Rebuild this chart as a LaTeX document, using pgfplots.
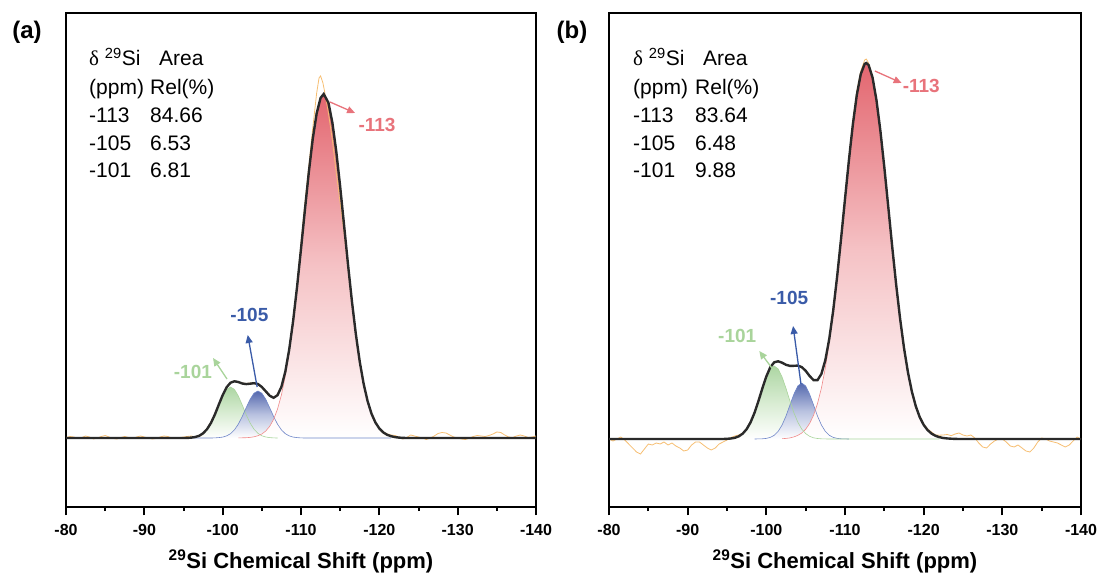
\documentclass[border=0pt]{standalone}
\usepackage{fontspec}
\setmainfont{Liberation Sans}
\newfontfamily\serifgreek{Liberation Serif}
\usepackage{pgfplots}
\usepackage{pgfplotstable}
\pgfplotsset{compat=1.18}
\usetikzlibrary{arrows.meta}
\definecolor{redtop}{HTML}{E3666F}
\definecolor{redmid}{HTML}{F5C2C5}
\definecolor{redline}{HTML}{F08A8A}
\definecolor{redlab}{HTML}{E8737B}
\definecolor{bluetop}{HTML}{5468AE}
\definecolor{bluemid}{HTML}{B9C2E0}
\definecolor{blueline}{HTML}{6F86C8}
\definecolor{bluelab}{HTML}{3A5BA8}
\definecolor{greentop}{HTML}{ADD6A3}
\definecolor{greenmid}{HTML}{D8ECD2}
\definecolor{greenline}{HTML}{A9D49B}
\definecolor{greenlab}{HTML}{A9D49B}
\definecolor{expline}{HTML}{F6BE72}
\definecolor{fitline}{HTML}{2A2A2A}

% ---------- panel (a) ----------
\pgfplotstableread{
x y
-102 0.1
-103 0.3
-103.5 0.6
-104 1.2
-104.5 2.3
-105 4.0
-105.5 7.0
-106 11.6
-106.5 18.6
-107 28.9
-107.5 43.1
-108 62.2
-108.5 86.7
-109 116.5
-109.5 151.0
-110 189.0
-110.5 228.3
-111 266.0
-111.5 299.2
-112 324.7
-112.5 340.1
-112.9 344
-113.5 335.3
-114 315.6
-114.5 286.7
-115 251.3
-115.5 212.6
-116 173.5
-116.5 136.7
-117 103.9
-117.5 76.2
-118 54.0
-118.5 36.9
-119 24.3
-119.5 15.5
-120 9.5
-120.5 5.6
-121 3.2
-121.5 1.8
-122 0.9
-122.5 0.4
-123 0.1
-124 0
}\redA
\pgfplotstableread{
x y
-96 0
-98.5 0
-99 0.1
-99.5 0.4
-100 0.9
-100.5 2.1
-101 4.3
-101.5 8.1
-102 13.9
-102.5 21.5
-103 30.3
-103.5 38.7
-104 44.8
-104.5 47
-105 44.8
-105.5 38.7
-106 30.3
-106.5 21.5
-107 13.9
-107.5 8.1
-108 4.3
-108.5 2.1
-109 0.9
-109.5 0.4
-110 0.1
-110.5 0
-121.5 0
}\blueA
\pgfplotstableread{
x y
-95 0
-95.5 0.1
-96 0.4
-96.5 1.0
-97 2.2
-97.5 4.7
-98 8.8
-98.5 15.0
-99 23.3
-99.5 32.9
-100 42.0
-100.5 48.6
-101 51
-101.5 48.6
-102 42.0
-102.5 32.9
-103 23.3
-103.5 15.0
-104 8.8
-104.5 4.7
-105 2.2
-105.5 1.0
-106 0.4
-106.5 0.1
-107 0
}\greenA
\pgfplotstableread{
x y
-80 0
-95 0
-95.5 0.1
-96 0.4
-96.5 1.0
-97 2.2
-97.5 4.7
-98 8.8
-98.5 15.0
-99 23.4
-99.5 33.3
-100 42.9
-100.5 50.7
-101 55.3
-101.5 56.7
-102 56.0
-102.5 54.5
-103 53.9
-103.5 54.3
-104 54.8
-104.5 54.0
-105 51.0
-105.5 46.7
-106 42.3
-106.5 40.2
-107 42.8
-107.5 51.2
-108 66.5
-108.5 88.8
-109 117.4
-109.5 151.4
-110 189.1
-110.5 228.3
-111 266.0
-111.5 299.2
-112 324.7
-112.5 340.1
-112.9 344
-113.5 335.3
-114 315.6
-114.5 286.7
-115 251.3
-115.5 212.6
-116 173.5
-116.5 136.7
-117 103.9
-117.5 76.2
-118 54.0
-118.5 36.9
-119 24.3
-119.5 15.5
-120 9.5
-120.5 5.6
-121 3.2
-121.5 1.8
-122 0.9
-122.5 0.4
-123 0.1
-123.5 0
-140 0
}\sumA
\pgfplotstableread{
x y
-80 0.5
-80.5 1.5
-81 1
-81.5 -0.5
-82 0.5
-82.5 2
-83 1
-83.5 -1
-84 0
-84.5 1.5
-85 2.5
-85.5 1
-86 -0.5
-86.5 -1
-87 0.5
-87.5 1.5
-88 0.5
-88.5 -0.5
-89 1
-89.5 2
-90 1
-90.5 0
-91 -1
-91.5 -0.5
-92 1
-92.5 2
-93 1.5
-93.5 0
-94 -0.5
-94.5 0.5
-95 1
-95.5 1.5
-96 2
-96.5 1
-97 1.5
-97.5 4
-98 9.5
-98.5 16
-99 24
-99.5 33
-100 43
-100.5 51
-101 55.5
-101.5 57
-102 56
-102.5 55
-103 54.5
-103.5 55
-104 55
-104.5 53.5
-105 50.5
-105.5 46
-106 42
-106.5 40.5
-107 43.5
-107.5 52
-108 67
-108.5 89
-109 118
-109.5 153
-110 195
-110.5 235
-111 272
-111.5 310
-112 345
-112.3 360
-112.5 362
-112.8 355
-113 347
-113.5 325
-114 298
-114.5 265
-115 235
-115.5 205
-116 170
-116.5 135
-117 103
-117.5 76
-118 54.5
-118.5 37
-119 25
-119.5 16
-120 10
-120.5 6
-121 4
-121.5 3
-122 2.5
-122.5 1
-123 -1
-123.5 0.5
-124 3
-124.5 2
-125 1
-125.5 0
-126 -1.5
-126.5 0
-127 2
-127.5 4.5
-128 5.5
-128.5 5
-129 3
-129.5 1
-130 0
-130.5 -1
-131 -1.5
-131.5 0
-132 1.5
-132.5 2.5
-133 2
-133.5 1.5
-134 2.5
-134.5 4
-135 6
-135.5 5.5
-136 3
-136.5 1
-137 0.5
-137.5 2
-138 3
-138.5 2
-139 0.5
-139.5 1
-140 2
}\expA

% ---------- panel (b) ----------
\pgfplotstableread{
x y
-102 0.3
-102.5 0.6
-103 1.1
-103.5 2.1
-104 3.6
-104.5 6.0
-105 9.8
-105.5 15.5
-106 23.7
-106.5 35.3
-107 50.9
-107.5 71.2
-108 96.5
-108.5 126.9
-109 161.9
-109.5 200.2
-110 240.0
-110.5 279.1
-111 314.7
-111.5 344.1
-112 364.8
-112.5 375.1
-112.7 376
-113 373.9
-113.5 361.5
-114 338.8
-114.5 308.0
-115 271.5
-115.5 232.1
-116 192.3
-116.5 154.6
-117 120.5
-117.5 91.0
-118 66.7
-118.5 47.4
-119 32.7
-119.5 21.8
-120 14.1
-120.5 8.9
-121 5.4
-121.5 3.2
-122 1.8
-122.5 1.0
-123 0.55
-123.5 0.3
-124 0
}\redB
\pgfplotstableread{
x y
-98.5 0
-99 0.1
-99.5 0.2
-100 0.6
-100.5 1.6
-101 3.7
-101.5 7.6
-102 14.0
-102.5 23.0
-103 34.0
-103.5 44.8
-104 53.0
-104.5 56
-105 53.0
-105.5 44.8
-106 34.0
-106.5 23.0
-107 14.0
-107.5 7.6
-108 3.7
-108.5 1.6
-109 0.6
-109.5 0.2
-110 0.1
-110.5 0
}\blueB
\pgfplotstableread{
x y
-94 0
-94.5 0.07
-95 0.2
-95.5 0.5
-96 1.2
-96.5 2.7
-97 5.4
-97.5 9.9
-98 16.8
-98.5 26.3
-99 38.0
-99.5 50.6
-100 62.0
-100.5 70.1
-101 73
-101.5 70.1
-102 62.0
-102.5 50.6
-103 38.0
-103.5 26.3
-104 16.8
-104.5 9.9
-105 5.4
-105.5 2.7
-106 1.2
-106.5 0.5
-107 0.2
-107.5 0.07
-108 0
-122 0
}\greenB
\pgfplotstableread{
x y
-80 0
-94.5 0
-95 0.2
-95.5 0.5
-96 1.2
-96.5 2.7
-97 5.4
-97.5 9.9
-98 16.8
-98.5 26.3
-99 38.1
-99.5 50.8
-100 62.6
-100.5 71.7
-101 76.7
-101.5 77.7
-102 76.3
-102.5 74.2
-103 73.1
-103.5 73.2
-104 73.4
-104.5 71.9
-105 68.2
-105.5 63.0
-106 58.9
-106.5 58.8
-107 65.1
-107.5 78.9
-108 100.2
-108.5 128.5
-109 162.5
-109.5 200.4
-110 240.0
-110.5 279.1
-111 314.7
-111.5 344.1
-112 364.8
-112.5 375.1
-112.7 376
-113 373.9
-113.5 361.5
-114 338.8
-114.5 308.0
-115 271.5
-115.5 232.1
-116 192.3
-116.5 154.6
-117 120.5
-117.5 91.0
-118 66.7
-118.5 47.4
-119 32.7
-119.5 21.8
-120 14.1
-120.5 8.9
-121 5.4
-121.5 3.2
-122 1.8
-122.5 1.0
-123 0.55
-123.5 0.3
-124 0.1
-124.5 0
-140 0
}\sumB
\pgfplotstableread{
x y
-80 0
-80.5 -2
-81 0
-81.5 2
-82 -1
-82.5 -5
-83 -9
-83.5 -13
-84 -15
-84.5 -10
-85 -5
-85.5 -6
-86 -4
-86.5 -5
-87 -3
-87.5 -6
-88 -4
-88.5 -7
-89 -9
-89.5 -12
-90 -11
-90.5 -6
-91 -3
-91.5 -3
-92 -6
-92.5 -9
-93 -11
-93.5 -9
-94 -5
-94.5 -3
-95 -1
-95.5 1.5
-96 3
-96.5 4
-97 6
-97.5 10
-98 17
-98.5 27
-99 39
-99.5 51
-100 63
-100.5 72
-101 77
-101.5 78
-102 76
-102.5 74
-103 73.5
-103.5 73.5
-104 73
-104.5 71.5
-105 67.5
-105.5 62.5
-106 58.5
-106.5 59
-107 65.5
-107.5 79.5
-108 101
-108.5 130
-109 165
-109.5 203
-110 243
-110.5 282
-111 318
-111.5 348
-112 368
-112.5 379
-112.7 380
-113 376
-113.5 362
-114 338
-114.5 307
-115 270
-115.5 231
-116 191
-116.5 154
-117 120
-117.5 91
-118 67
-118.5 48
-119 33
-119.5 23
-120 15
-120.5 10
-121 7
-121.5 4
-122 3.8
-122.5 4
-123 4.5
-123.5 3.3
-124 5
-124.5 6
-125 4
-125.5 3
-126 4
-126.5 1
-127 -4
-127.5 -8
-128 -9
-128.5 -5
-129 -2
-129.5 0
-130 0
-130.5 -3
-131 -7
-131.5 -8
-132 -6
-132.5 -9
-133 -12
-133.5 -13
-134 -9
-134.5 -3
-135 1
-135.5 0
-136 -2
-136.5 -3
-137 -4
-137.5 -6
-138 -8
-138.5 -6
-139 -2
-139.5 2
-140 0
}\expB

\pgfplotsset{
  panel/.style={
    scale only axis,
    disabledatascaling,
    anchor=south west,
    height=494pt,
    xmin=-140, xmax=-80,
    x dir=reverse,
    ytick=\empty,
    xtick={-140,-130,-120,-110,-100,-90,-80},
    xticklabels={-140,-130,-120,-110,-100,-90,-80},
    minor xtick={-135,-125,-115,-105,-95,-85},
    extra x ticks={-140,-130,-120,-110,-100,-90,-80},
    extra x tick labels={},
    extra x tick style={major tick length=8pt, tick style={draw=black, line width=2.2pt}},
    tick align=outside,
    xtick pos=left,
    major tick length=8pt,
    minor tick length=4pt,
    axis line style={line width=2.5pt, black},
    every major tick/.style={draw=black, line width=2.2pt},
    every minor tick/.style={draw=black, line width=2pt},
    xticklabel style={font=\fontsize{16}{16}\selectfont\bfseries, yshift=-6pt},
    xlabel={\textsuperscript{29}Si Chemical Shift (ppm)},
    xlabel style={font=\fontsize{22}{22}\selectfont\bfseries,
      at={(axis description cs:0.5,0)}, anchor=base, yshift=-61pt},
    clip=true,
  },
  comp/.style={line width=0.6pt},
}

\begin{document}
\begin{tikzpicture}[x=1pt,y=1pt]
% ===== panel (a) =====
\begin{axis}[panel, at={(66pt,66pt)}, width=470pt, ymin=-69, ymax=425]
\addplot[draw=none, top color=greentop, bottom color=white, middle color=greenmid] table {\greenA} \closedcycle;
\addplot[draw=none, top color=bluetop, bottom color=white, middle color=bluemid] table {\blueA} \closedcycle;
\addplot[draw=none, top color=redtop, bottom color=white, middle color=redmid] table {\redA} \closedcycle;
\addplot[comp, greenline] table {\greenA};
\addplot[comp, blueline] table {\blueA};
\addplot[comp, redline] table {\redA};
\addplot[line width=0.8pt, expline] table {\expA};
\addplot[line width=2.4pt, fitline] table {\sumA};
\draw[-{Triangle[length=8pt,width=7pt]}, redlab, line width=1.3pt] (axis cs:-113.7,336) -- (axis cs:-116.9,325);
\node[text=redlab, font=\fontsize{19}{19}\selectfont\bfseries] at (axis cs:-119.7,313) {-113};
\draw[-{Triangle[length=8pt,width=7pt]}, bluelab, line width=1.3pt] (axis cs:-104.4,51) -- (axis cs:-103.2,103);
\node[text=bluelab, font=\fontsize{19}{19}\selectfont\bfseries] at (axis cs:-103.4,123) {-105};
\draw[-{Triangle[length=8pt,width=7pt]}, greenlab, line width=1.3pt] (axis cs:-100.55,59) -- (axis cs:-98.77,80);
\node[text=greenlab, font=\fontsize{19}{19}\selectfont\bfseries] at (axis cs:-96.2,66) {-101};
\end{axis}
% ===== panel (b) =====
\begin{axis}[panel, at={(609pt,66pt)}, width=472pt, ymin=-68, ymax=426]
\addplot[draw=none, top color=greentop, bottom color=white, middle color=greenmid] table {\greenB} \closedcycle;
\addplot[draw=none, top color=bluetop, bottom color=white, middle color=bluemid] table {\blueB} \closedcycle;
\addplot[draw=none, top color=redtop, bottom color=white, middle color=redmid] table {\redB} \closedcycle;
\addplot[comp, blueline] table {\blueB};
\addplot[comp, redline] table {\redB};
\addplot[comp, greenline] table {\greenB};
\addplot[line width=0.8pt, expline] table {\expB};
\addplot[line width=2.4pt, fitline] table {\sumB};
\draw[-{Triangle[length=8pt,width=7pt]}, redlab, line width=1.3pt] (axis cs:-113.8,368) -- (axis cs:-117.2,356);
\node[text=redlab, font=\fontsize{19}{19}\selectfont\bfseries] at (axis cs:-119.7,353) {-113};
\draw[-{Triangle[length=8pt,width=7pt]}, bluelab, line width=1.3pt] (axis cs:-104.4,55) -- (axis cs:-103.4,113);
\node[text=bluelab, font=\fontsize{19}{19}\selectfont\bfseries] at (axis cs:-102.9,141) {-105};
\draw[-{Triangle[length=8pt,width=7pt]}, greenlab, line width=1.3pt] (axis cs:-100.7,71) -- (axis cs:-99.1,88);
\node[text=greenlab, font=\fontsize{19}{19}\selectfont\bfseries] at (axis cs:-96.3,103) {-101};
\end{axis}
% ===== tables of values =====
\begin{scope}[every node/.style={anchor=base west, inner sep=0pt, font=\fontsize{21}{21}\selectfont}]
\node at (89pt,507pt) {{\serifgreek δ} \textsuperscript{29}Si};
\node at (159pt,507pt) {Area};
\node at (89pt,478.5pt) {(ppm)};
\node at (150pt,478.5pt) {Rel(\%)};
\node at (89pt,450.5pt) {-113};
\node at (150pt,450.5pt) {84.66};
\node at (89pt,422.5pt) {-105};
\node at (150pt,422.5pt) {6.53};
\node at (89pt,395.5pt) {-101};
\node at (150pt,395.5pt) {6.81};
\node at (633pt,507pt) {{\serifgreek δ} \textsuperscript{29}Si};
\node at (703pt,507pt) {Area};
\node at (633pt,478.5pt) {(ppm)};
\node at (695pt,478.5pt) {Rel(\%)};
\node at (633pt,450.5pt) {-113};
\node at (695pt,450.5pt) {83.64};
\node at (633pt,422.5pt) {-105};
\node at (695pt,422.5pt) {6.48};
\node at (633pt,395.5pt) {-101};
\node at (695pt,395.5pt) {9.88};
\end{scope}
\node[font=\fontsize{24}{24}\selectfont\bfseries] at (27pt,541pt) {(a)};
\node[font=\fontsize{24}{24}\selectfont\bfseries] at (572pt,541pt) {(b)};
\pgfresetboundingbox
\path[use as bounding box] (0pt,0pt) rectangle (1100pt,573pt);
\end{tikzpicture}
\end{document}
